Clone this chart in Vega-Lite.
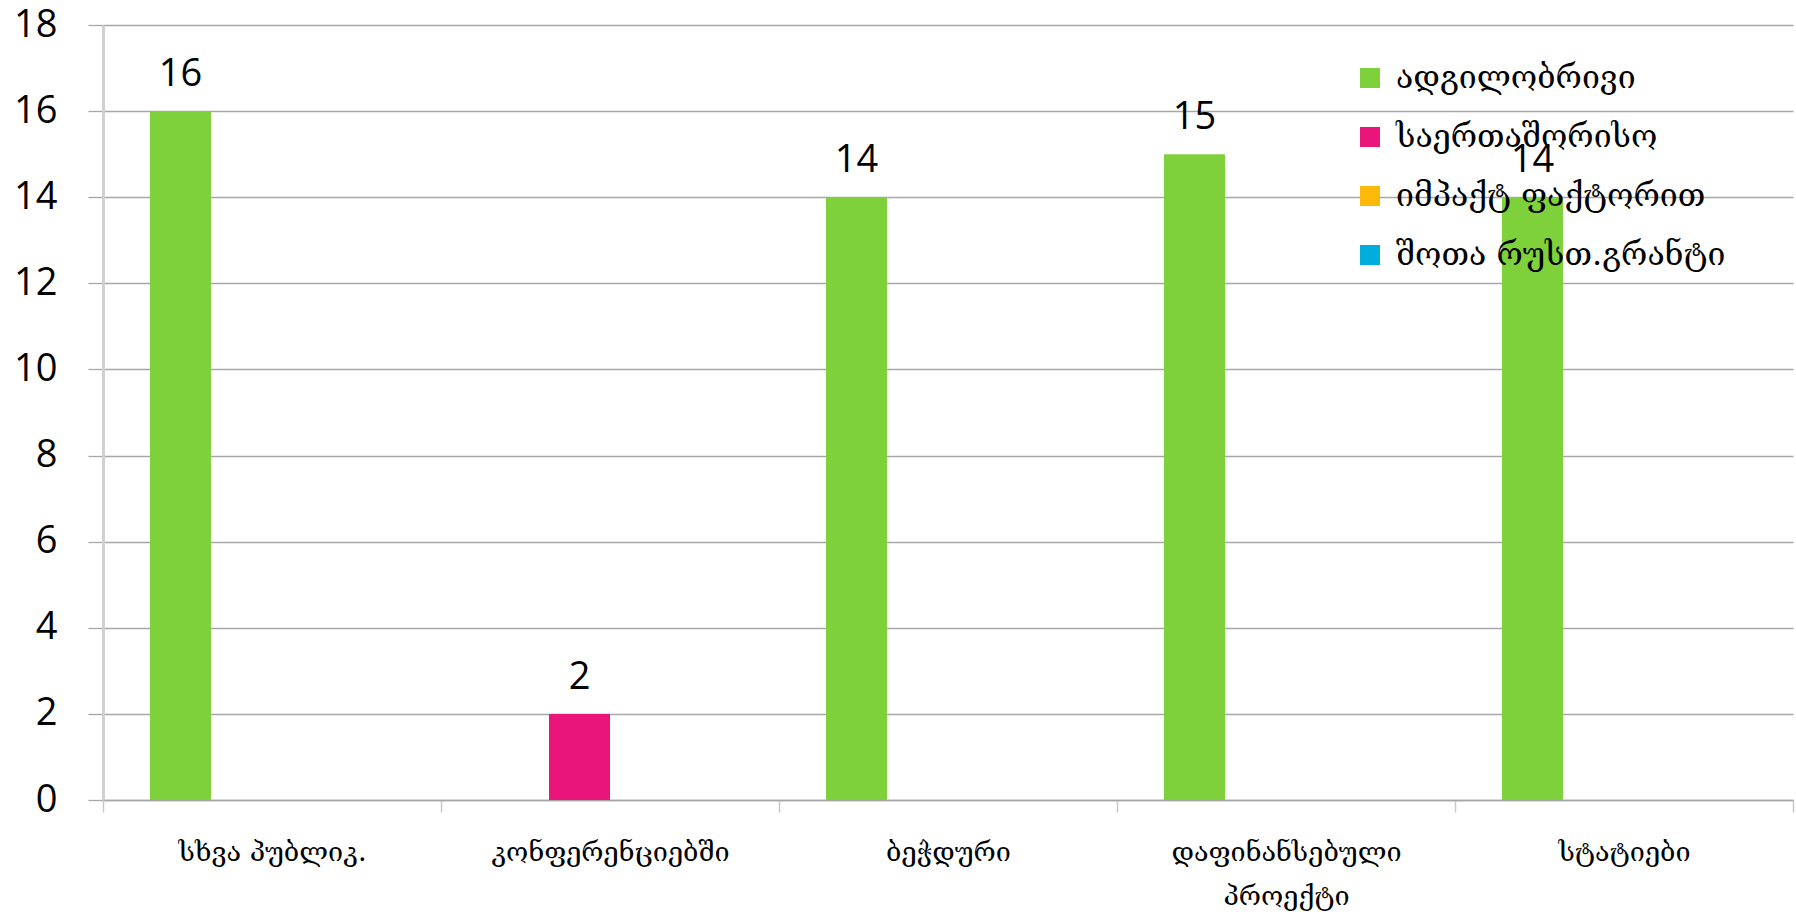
{
  "$schema": "https://vega.github.io/schema/vega-lite/v6.json",
  "width": 1690,
  "height": 775,
  "autosize": {"type": "none"},
  "padding": {"left": 103, "top": 25, "right": 3, "bottom": 114},
  "background": "white",
  "config": {"view": {"stroke": null}},
  "data": {
    "values": [
      {"category": "სხვა პუბლიკ.", "series": "ადგილობრივი", "value": 16},
      {"category": "კონფერენციებში", "series": "საერთაშორისო", "value": 2},
      {"category": "ბეჭდური", "series": "ადგილობრივი", "value": 14},
      {"category": "დაფინანსებული პროექტი", "series": "ადგილობრივი", "value": 15},
      {"category": "სტატიები", "series": "ადგილობრივი", "value": 14}
    ]
  },
  "encoding": {
    "x": {
      "field": "category",
      "type": "nominal",
      "sort": null,
      "scale": {"paddingInner": 0, "paddingOuter": 0},
      "axis": {
        "title": null,
        "labelAngle": 0,
        "tickBand": "extent",
        "domainColor": "#a6a6a6",
        "domainWidth": 1.5,
        "tickColor": "#c8c8c8",
        "tickWidth": 1.5,
        "tickSize": 12,
        "labelPadding": 27,
        "labelFont": "DejaVu Serif",
        "labelFontSize": 27,
        "labelColor": "#000000",
        "labelLineHeight": 44,
        "labelLimit": 600,
        "labelExpr": "datum.label == 'დაფინანსებული პროექტი' ? ['დაფინანსებული', 'პროექტი'] : datum.label"
      }
    },
    "xOffset": {
      "field": "series",
      "type": "nominal",
      "scale": {"domain": ["ადგილობრივი", "საერთაშორისო", "იმპაქტ ფაქტორით", "შოთა რუსთ.გრანტი"], "paddingInner": 0, "paddingOuter": 0.77}
    },
    "y": {
      "field": "value",
      "type": "quantitative",
      "scale": {"domain": [0, 18], "nice": false},
      "axis": {
        "title": null,
        "values": [0, 2, 4, 6, 8, 10, 12, 14, 16, 18],
        "grid": true,
        "gridColor": "#a6a6a6",
        "gridWidth": 1.3,
        "domainColor": "#d0d0d0",
        "domainWidth": 3,
        "tickColor": "#a6a6a6",
        "tickWidth": 1.3,
        "tickSize": 15,
        "labelPadding": 31,
        "labelFont": "Open Sans",
        "labelFontSize": 38,
        "labelColor": "#000000"
      }
    }
  },
  "layer": [
    {
      "mark": {"type": "bar"},
      "encoding": {
        "color": {
          "field": "series",
          "type": "nominal",
          "scale": {
            "domain": ["ადგილობრივი", "საერთაშორისო", "იმპაქტ ფაქტორით", "შოთა რუსთ.გრანტი"],
            "range": ["#7FD13B", "#EA157A", "#FEB80A", "#00ADDC"]
          },
          "legend": {
            "title": null,
            "orient": "none",
            "legendX": 1251,
            "legendY": 37,
            "symbolType": "square",
            "symbolSize": 400,
            "symbolStrokeWidth": 0,
            "labelFont": "DejaVu Serif",
            "labelFontSize": 32,
            "labelColor": "#000000",
            "labelOffset": 10,
            "rowPadding": 27,
            "labelLimit": 600
          }
        }
      }
    },
    {
      "mark": {"type": "text", "baseline": "alphabetic", "dy": -25, "font": "Open Sans", "fontSize": 38, "color": "#000000"},
      "encoding": {"text": {"field": "value", "type": "quantitative"}}
    }
  ]
}
